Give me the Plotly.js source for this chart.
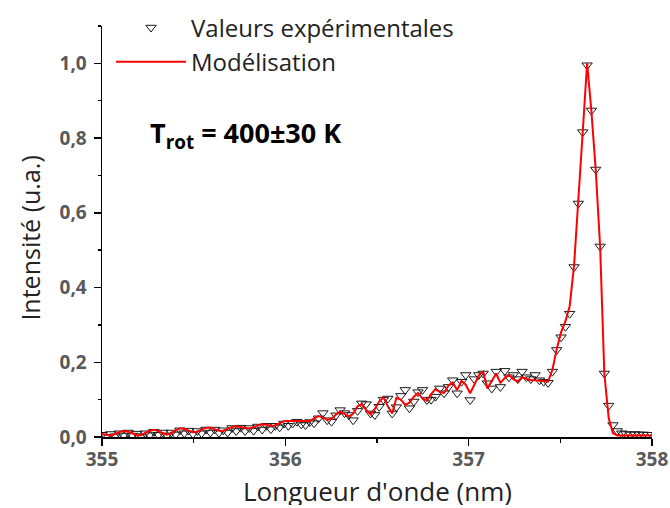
<!DOCTYPE html>
<html>
<head>
<meta charset="utf-8">
<script src="https://cdn.plot.ly/plotly-3.0.1.min.js"></script>
<style>html,body{margin:0;padding:0;background:#fff;}#chart{width:670px;height:508px;}</style>
</head>
<body>
<div id="chart"></div>
<script>
// Wavelength grid (nm)
var wavelength = [355.000,355.024,355.047,355.071,355.094,355.118,355.142,355.165,355.189,355.213,355.236,355.260,355.283,355.307,355.331,355.354,355.378,355.402,355.425,355.449,355.472,355.496,355.520,355.543,355.567,355.591,355.614,355.638,355.661,355.685,355.709,355.732,355.756,355.780,355.803,355.827,355.850,355.874,355.898,355.921,355.945,355.969,355.992,356.016,356.039,356.063,356.087,356.110,356.134,356.157,356.181,356.205,356.228,356.252,356.276,356.299,356.323,356.346,356.370,356.394,356.417,356.441,356.465,356.488,356.512,356.535,356.559,356.583,356.606,356.630,356.654,356.677,356.701,356.724,356.748,356.772,356.795,356.819,356.843,356.866,356.890,356.913,356.937,356.961,356.984,357.008,357.031,357.055,357.079,357.102,357.126,357.150,357.173,357.197,357.220,357.244,357.268,357.291,357.315,357.339,357.362,357.386,357.409,357.433,357.457,357.480,357.504,357.528,357.551,357.575,357.598,357.622,357.646,357.669,357.693,357.717,357.740,357.764,357.787,357.811,357.835,357.858,357.882,357.906,357.929,357.953,357.976,358.000];

// Experimental values (a.u.)
var experimental = [0.006,0.000,0.008,0.002,0.010,0.004,0.012,0.004,0.009,0.002,0.010,0.005,0.014,0.006,0.012,0.004,0.012,0.007,0.018,0.010,0.017,0.008,0.016,0.010,0.020,0.012,0.020,0.011,0.018,0.012,0.024,0.016,0.025,0.016,0.024,0.017,0.028,0.020,0.030,0.021,0.030,0.026,0.036,0.030,0.036,0.041,0.034,0.032,0.040,0.037,0.050,0.064,0.045,0.041,0.058,0.072,0.064,0.059,0.045,0.070,0.090,0.088,0.063,0.059,0.081,0.100,0.103,0.063,0.080,0.110,0.126,0.077,0.095,0.120,0.126,0.099,0.100,0.108,0.130,0.117,0.134,0.152,0.117,0.148,0.166,0.099,0.155,0.166,0.170,0.144,0.130,0.175,0.134,0.177,0.160,0.166,0.155,0.175,0.160,0.155,0.166,0.152,0.148,0.145,0.175,0.233,0.267,0.295,0.330,0.455,0.625,0.816,0.995,0.874,0.716,0.510,0.170,0.084,0.032,0.016,0.010,0.008,0.007,0.008,0.007,0.007,0.006,0.006];

// Simulated spectrum (a.u.)
var model = [0.008,0.005,0.004,0.008,0.013,0.016,0.015,0.010,0.005,0.005,0.011,0.017,0.019,0.016,0.010,0.006,0.010,0.018,0.023,0.022,0.017,0.013,0.014,0.020,0.025,0.025,0.021,0.017,0.016,0.021,0.027,0.029,0.027,0.024,0.023,0.026,0.031,0.034,0.033,0.030,0.031,0.037,0.042,0.043,0.043,0.045,0.045,0.044,0.043,0.050,0.056,0.052,0.046,0.048,0.060,0.068,0.062,0.055,0.062,0.082,0.088,0.072,0.061,0.075,0.095,0.106,0.082,0.063,0.105,0.100,0.086,0.092,0.108,0.118,0.103,0.097,0.115,0.128,0.120,0.118,0.138,0.146,0.126,0.150,0.140,0.117,0.140,0.165,0.175,0.130,0.150,0.170,0.145,0.158,0.166,0.155,0.148,0.160,0.156,0.152,0.152,0.152,0.150,0.148,0.180,0.235,0.280,0.310,0.350,0.460,0.625,0.815,1.000,0.875,0.715,0.510,0.170,0.050,0.010,0.004,0.004,0.004,0.004,0.004,0.004,0.004,0.004,0.004];

var xTickVals = [355, 356, 357, 358];
var xTickText = ['355', '356', '357', '358'];
var yTickVals = [0, 0.2, 0.4, 0.6, 0.8, 1.0];
var yTickText = ['0,0', '0,2', '0,4', '0,6', '0,8', '1,0'];

var FONT = '"Open Sans", "DejaVu Sans", sans-serif';

var traces = [
  {
    x: wavelength, y: experimental, name: 'Valeurs expérimentales',
    type: 'scatter', mode: 'markers',
    marker: {symbol: 'triangle-down-open', size: 9, color: '#1a1a1a', line: {width: 1, color: '#1a1a1a'}}
  },
  {
    x: wavelength, y: model, name: 'Modélisation',
    type: 'scatter', mode: 'lines',
    line: {color: '#ff0000', width: 2}
  }
];

var tickFont = {family: FONT, size: 19, color: '#595959', weight: 'bold'};

var layout = {
  width: 670, height: 508,
  margin: {l: 102, r: 18, t: 26, b: 71, autoexpand: false},
  paper_bgcolor: '#ffffff', plot_bgcolor: '#ffffff',
  font: {family: FONT, color: '#222'},
  showlegend: true,
  legend: {
    x: 0.0164, y: 1.05, xanchor: 'left', yanchor: 'top',
    xref: 'paper', yref: 'paper',
    font: {family: FONT, size: 24, color: '#222'},
    bgcolor: 'rgba(0,0,0,0)', borderwidth: 0,
    itemwidth: 70, tracegroupgap: 0
  },
  xaxis: {
    range: [355, 358], tickmode: 'array', tickvals: xTickVals, ticktext: xTickText,
    ticks: 'outside', ticklen: 7, tickwidth: 1.5, tickcolor: '#000',
    showline: true, linecolor: '#000', linewidth: 1.5, mirror: false,
    showgrid: false, zeroline: false,
    tickfont: tickFont, ticklabelstandoff: -2,
    minor: {dtick: 0.5, tick0: 355, ticks: 'outside', ticklen: 4, tickwidth: 1.5, tickcolor: '#000', showgrid: false}
  },
  yaxis: {
    range: [0, 1.1], tickmode: 'array', tickvals: yTickVals, ticktext: yTickText,
    ticks: 'outside', ticklen: 7, tickwidth: 1.5, tickcolor: '#000',
    showline: true, linecolor: '#000', linewidth: 1.5, mirror: false,
    showgrid: false, zeroline: false,
    tickfont: tickFont, ticklabelstandoff: 3,
    minor: {dtick: 0.1, tick0: 0, ticks: 'outside', ticklen: 3, tickwidth: 1.5, tickcolor: '#000', showgrid: false}
  },
  annotations: [
    {
      text: "Longueur d'onde (nm)", xref: 'paper', yref: 'paper',
      x: 0.5, y: -0.1314, xanchor: 'center', yanchor: 'middle',
      height: 28, showarrow: false,
      font: {family: FONT, size: 26, color: '#222'}
    },
    {
      text: 'Intensité (u.a.)', xref: 'paper', yref: 'paper',
      x: -0.131, y: 0.485, xanchor: 'center', yanchor: 'middle',
      textangle: -90, showarrow: false,
      font: {family: FONT, size: 25, color: '#222'}
    },
    {
      text: '<b>T<sub>rot</sub> = 400±30 K</b>', xref: 'paper', yref: 'paper',
      x: 0.083, y: 0.735, xanchor: 'left', yanchor: 'middle',
      showarrow: false,
      font: {family: FONT, size: 27, color: '#000'}
    }
  ]
};

Plotly.newPlot('chart', traces, layout, {displayModeBar: false, staticPlot: true});
</script>
</body>
</html>
